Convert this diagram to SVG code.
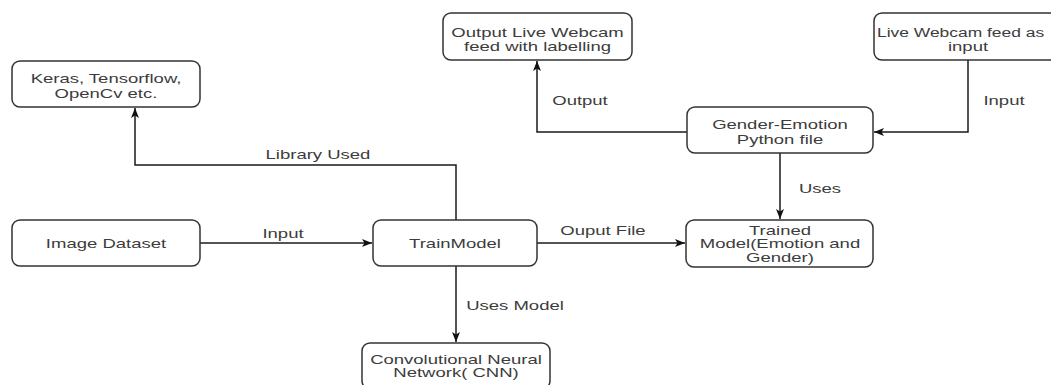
<svg xmlns="http://www.w3.org/2000/svg" width="1051" height="385" viewBox="0 0 1051 385">
<defs>
<style>
.box{fill:#fff;stroke:#333;stroke-width:1.5}
.t{font-family:"Liberation Sans",Arial,sans-serif;font-size:13.5px;fill:#3c3c3c;text-anchor:middle}
.c{fill:none;stroke:#1a1a1a;stroke-width:1.5}
</style>
<marker id="ah" viewBox="0 0 10 10" refX="10" refY="5" markerWidth="10" markerHeight="10" markerUnits="userSpaceOnUse" orient="auto">
<path d="M0,1 L10,5 L0,9 L2.5,5 Z" fill="#111"/>
</marker>
</defs>
<rect width="1051" height="385" fill="#fff"/>
<g id="connectors">
<path class="c" d="M456,220 V165 H135 V108" marker-end="url(#ah)"/>
<text class="t" transform="matrix(1.37 0 0 1 318 154)" y="5">Library Used</text>
<path class="c" d="M200,243 H372" marker-end="url(#ah)"/>
<text class="t" transform="matrix(1.37 0 0 1 283 233)" y="5">Input</text>
<path class="c" d="M537,243 H685" marker-end="url(#ah)"/>
<text class="t" transform="matrix(1.37 0 0 1 603 230)" y="5">Ouput File</text>
<path class="c" d="M456,266 V342" marker-end="url(#ah)"/>
<text class="t" transform="matrix(1.37 0 0 1 515 305)" y="5">Uses Model</text>
<path class="c" d="M687,132 H537 V61" marker-end="url(#ah)"/>
<text class="t" transform="matrix(1.37 0 0 1 580 100)" y="5">Output</text>
<path class="c" d="M968,60 V132 H874" marker-end="url(#ah)"/>
<text class="t" transform="matrix(1.37 0 0 1 1004 100)" y="5">Input</text>
<path class="c" d="M780,153 V219" marker-end="url(#ah)"/>
<text class="t" transform="matrix(1.37 0 0 1 820 188)" y="5">Uses</text>
</g>
<g id="keras">
<rect class="box" x="12" y="61" width="188" height="46" rx="8"/>
<text class="t" transform="matrix(1.37 0 0 1 106 78)" y="5">Keras, Tensorflow,<tspan x="0" dy="15">OpenCv etc.</tspan></text>
</g>
<g id="output-webcam">
<rect class="box" x="443" y="13" width="189" height="47" rx="8"/>
<text class="t" transform="matrix(1.37 0 0 1 537.5 32)" y="5">Output Live Webcam<tspan x="0" dy="14">feed with labelling</tspan></text>
</g>
<g id="live-webcam">
<rect class="box" x="874" y="13" width="189" height="47" rx="8"/>
<text class="t" transform="matrix(1.29 0 0 1 877 32)" y="5" style="text-anchor:start">Live Webcam feed as</text>
<text class="t" transform="matrix(1.37 0 0 1 968 46)" y="5">input</text>
</g>
<g id="gender-emotion">
<rect class="box" x="687" y="107" width="186" height="46" rx="8"/>
<text class="t" transform="matrix(1.37 0 0 1 780 124)" y="5">Gender-Emotion<tspan x="0" dy="15">Python file</tspan></text>
</g>
<g id="trained-model">
<rect class="box" x="686" y="220" width="187" height="47" rx="8"/>
<text class="t" transform="matrix(1.37 0 0 1 780 229.5)" y="5">Trained<tspan x="0" dy="14">Model(Emotion and</tspan><tspan x="0" dy="14">Gender)</tspan></text>
</g>
<g id="image-dataset">
<rect class="box" x="12" y="220" width="188" height="46" rx="8"/>
<text class="t" transform="matrix(1.37 0 0 1 106 243)" y="5">Image Dataset</text>
</g>
<g id="train-model">
<rect class="box" x="373" y="220" width="164" height="46" rx="8"/>
<text class="t" transform="matrix(1.37 0 0 1 455 243)" y="5">TrainModel</text>
</g>
<g id="cnn">
<rect class="box" x="362" y="343" width="188" height="46" rx="8"/>
<text class="t" transform="matrix(1.37 0 0 1 456 359)" y="5">Convolutional Neural<tspan x="0" dy="13">Network( CNN)</tspan></text>
</g>
</svg>
